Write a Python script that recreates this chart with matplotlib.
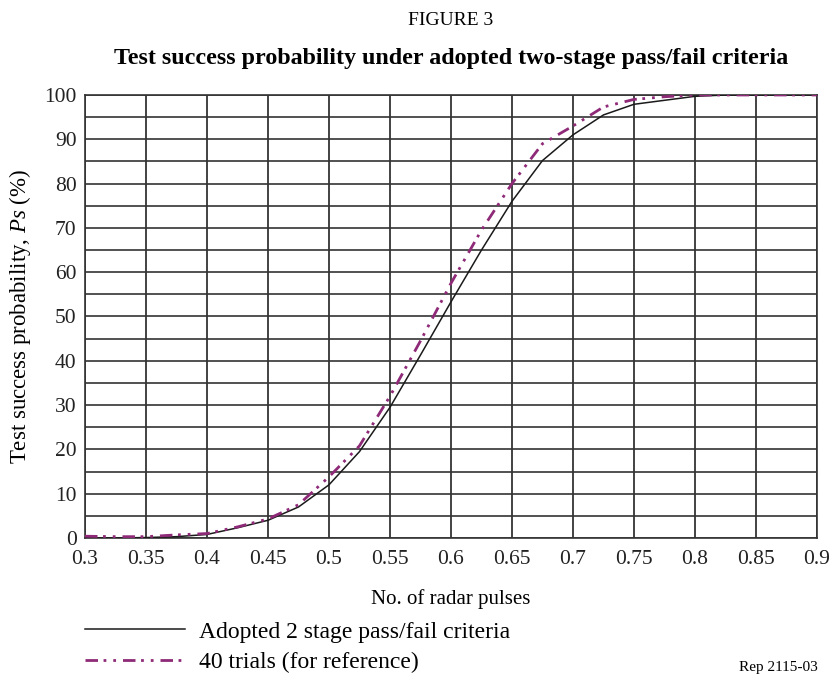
import matplotlib
matplotlib.use('Agg')
import matplotlib.pyplot as plt
import numpy as np

plt.rcParams['font.family'] = ['Liberation Serif', 'DejaVu Serif']
plt.rcParams['mathtext.fontset'] = 'custom'
plt.rcParams['mathtext.rm'] = 'Liberation Serif'
plt.rcParams['mathtext.it'] = 'Liberation Serif:italic'
plt.rcParams['lines.scale_dashes'] = False

# data
pulses = [0.3, 0.325, 0.35, 0.375, 0.4, 0.425, 0.45, 0.475, 0.5, 0.525, 0.55, 0.575,
          0.6, 0.625, 0.65, 0.675, 0.7, 0.725, 0.75, 0.775, 0.8, 0.825, 0.85, 0.875, 0.9]
adopted = [0.0, 0.0, 0.1, 0.3, 0.8, 2.3, 4.0, 7.0, 12.0, 19.5, 29.5, 41.3,
           53.3, 65.0, 76.0, 85.2, 91.0, 95.5, 97.9, 98.8, 99.7, 100.0, 100.0, 100.0, 100.0]
trials40 = [0.4, 0.3, 0.3, 0.7, 1.0, 2.5, 4.3, 7.5, 13.8, 20.8, 32.0, 44.5,
            57.5, 69.5, 80.0, 89.0, 93.0, 97.3, 99.0, 99.6, 100.0, 100.0, 100.0, 100.0, 100.0]

xticks = [0.3, 0.35, 0.4, 0.45, 0.5, 0.55, 0.6, 0.65, 0.7, 0.75, 0.8, 0.85, 0.9]
xticklabels = ['0.3', '0.35', '0.4', '0.45', '0.5', '0.55', '0.6', '0.65', '0.7',
               '0.75', '0.8', '0.85', '0.9']
yticks = list(range(0, 101, 10))

fig = plt.figure(figsize=(8.34, 6.78), dpi=100)
ax = fig.add_axes([0.1019, 0.2065, 0.8777, 0.6534])

# grid: every 0.05 on x, every 5 on y
for xv in xticks:
    ax.axvline(xv, color='#222222', lw=1.2, zorder=1)
for yv in range(0, 101, 5):
    ax.axhline(yv, color='#333333', lw=1.2, zorder=1)

purple = '#8e2a78'
ax.plot(pulses, adopted, color='#1a1a1a', lw=1.1, zorder=3,
        label='Adopted 2 stage pass/fail criteria')
ax.plot(pulses, trials40, color=purple, lw=2.0, zorder=4,
        linestyle=(0, (9, 4, 2, 5, 2, 5)), label='40 trials (for reference)')

ax.set_xlim(0.3, 0.9)
ax.set_ylim(0, 100)
ax.set_xticks(xticks)
ax.set_xticklabels(xticklabels)
ax.set_yticks(yticks)
ax.tick_params(axis='x', pad=9)
ax.tick_params(axis='y', pad=6)
ax.tick_params(length=0, labelsize=15.5, colors='#222222')
for s in ax.spines.values():
    s.set_color('#333333')
    s.set_linewidth(1.2)

ax.set_xlabel('No. of radar pulses', fontsize=15, labelpad=14)
ax.set_ylabel('Test success probability, $Ps$ (%)', fontsize=16.5, labelpad=8)

xc = 451 / 834
fig.text(xc, 0.97, 'FIGURE 3', ha='center', va='center', fontsize=14)
fig.text(xc, 0.913, 'Test success probability under adopted two-stage pass/fail criteria',
         ha='center', va='center', fontsize=17.3, fontweight='bold')
fig.text(0.98, 0.016, 'Rep 2115-03', ha='right', va='center', fontsize=11)

leg = fig.legend(loc='upper left', bbox_to_anchor=(85 / 834, 1 - 621 / 678), frameon=False,
                 borderpad=0, borderaxespad=0, fontsize=17, handlelength=4.24,
                 handletextpad=0.6, labelspacing=0.38)

fig.savefig('out.png', dpi=100)
